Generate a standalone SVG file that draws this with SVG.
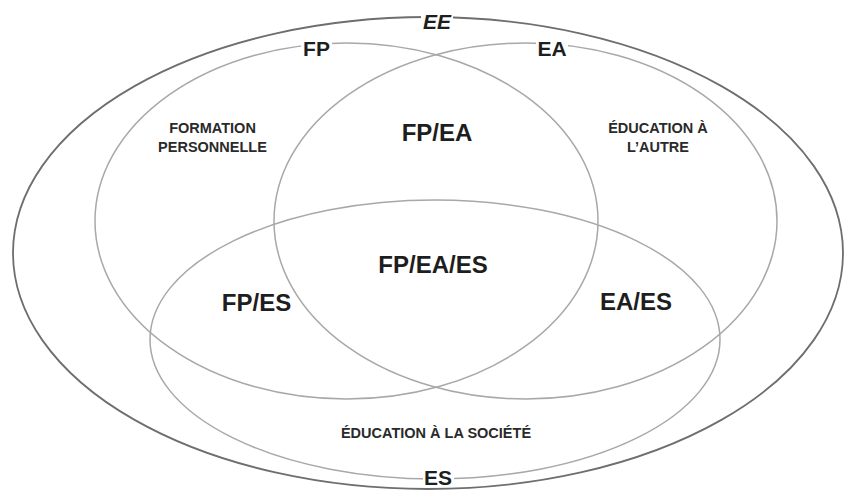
<svg xmlns="http://www.w3.org/2000/svg" width="852" height="495" viewBox="0 0 852 495">
  <style>
    .outer { fill: none; stroke: #6e6e6e; stroke-width: 1.8; }
    .set { fill: none; stroke: #a8a8a8; stroke-width: 1.5; }
    .big { font-family: "Liberation Sans", Arial, sans-serif; font-weight: bold; font-size: 24px; fill: #1e1e1e; text-anchor: middle; }
    .lbl { font-family: "Liberation Sans", Arial, sans-serif; font-weight: bold; font-size: 21px; fill: #1e1e1e; text-anchor: middle; }
    .small { font-family: "Liberation Sans", Arial, sans-serif; font-weight: bold; font-size: 14.5px; fill: #2a2a2a; text-anchor: middle; }
    .mask { fill: #ffffff; stroke: none; }
  </style>
  <rect width="852" height="495" fill="#ffffff"/>
  <g id="EE">
    <ellipse class="outer" cx="428" cy="253" rx="415" ry="236"/>
  </g>
  <g id="FP">
    <ellipse class="set" cx="346.5" cy="221" rx="251.5" ry="178"/>
  </g>
  <g id="EA">
    <ellipse class="set" cx="525.5" cy="221" rx="251.5" ry="178"/>
  </g>
  <g id="ES">
    <ellipse class="set" cx="435" cy="339.5" rx="285" ry="139.5"/>
  </g>
  <g id="labels-on-lines">
    <rect class="mask" x="421" y="8" width="32" height="22"/>
    <text class="lbl" x="437" y="29" font-style="italic">EE</text>
    <rect class="mask" x="301" y="37" width="31" height="21"/>
    <text class="lbl" x="316.5" y="56">FP</text>
    <rect class="mask" x="536" y="37" width="32" height="21"/>
    <text class="lbl" x="552" y="56">EA</text>
    <rect class="mask" x="423" y="465" width="31" height="21"/>
    <text class="lbl" x="438" y="485">ES</text>
  </g>
  <g id="FP-region">
    <text class="small" x="212.5" y="133">FORMATION</text>
    <text class="small" x="212.5" y="152">PERSONNELLE</text>
  </g>
  <g id="EA-region">
    <text class="small" x="658" y="133">ÉDUCATION À</text>
    <text class="small" x="658" y="152">L’AUTRE</text>
  </g>
  <g id="ES-region">
    <text class="small" x="436" y="438">ÉDUCATION À LA SOCIÉTÉ</text>
  </g>
  <g id="FP-EA">
    <text class="big" x="437" y="141">FP/EA</text>
  </g>
  <g id="FP-EA-ES">
    <text class="big" x="433" y="273">FP/EA/ES</text>
  </g>
  <g id="FP-ES">
    <text class="big" x="256.5" y="311">FP/ES</text>
  </g>
  <g id="EA-ES">
    <text class="big" x="636" y="310">EA/ES</text>
  </g>
</svg>
